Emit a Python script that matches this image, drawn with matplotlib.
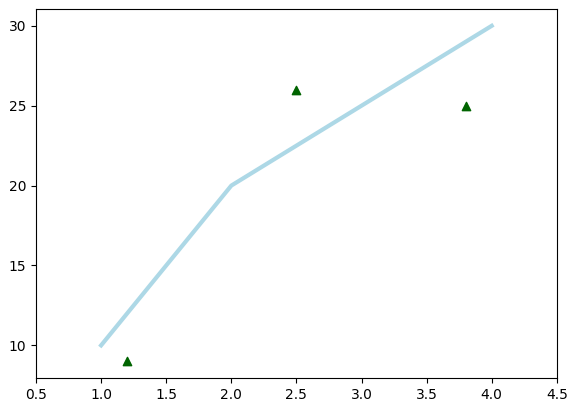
import matplotlib
matplotlib.use('Agg')
import matplotlib.pyplot as plt

line_x = [1, 2, 3, 4]
line_y = [10, 20, 25, 30]
pts_x = [1.2, 2.5, 3.8]
pts_y = [9, 26, 25]

fig = plt.figure(figsize=(5.77, 4.11), dpi=100)
ax = fig.add_axes([0.0624, 0.080, 0.9026, 0.898])
ax.plot(line_x, line_y, color='lightblue', linewidth=3)
ax.scatter(pts_x, pts_y, color='darkgreen', marker='^')
ax.set_xlim(0.5, 4.5)
fig.savefig('out.png', dpi=100)
